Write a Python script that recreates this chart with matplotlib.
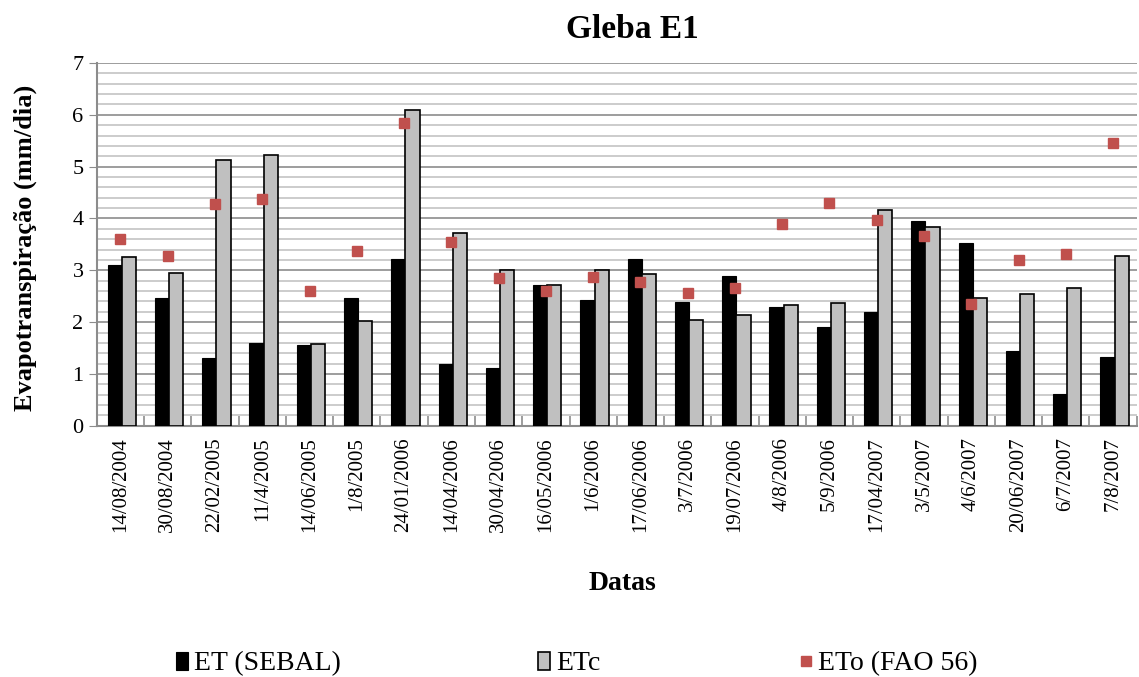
import numpy as np
from matplotlib import pyplot as plt
from matplotlib.ticker import MultipleLocator

datas = ['14/08/2004', '30/08/2004', '22/02/2005', '11/4/2005', '14/06/2005', '1/8/2005',
         '24/01/2006', '14/04/2006', '30/04/2006', '16/05/2006', '1/6/2006', '17/06/2006',
         '3/7/2006', '19/07/2006', '4/8/2006', '5/9/2006', '17/04/2007', '3/5/2007',
         '4/6/2007', '20/06/2007', '6/7/2007', '7/8/2007']
et_sebal = [3.10, 2.47, 1.30, 1.60, 1.55, 2.47, 3.22, 1.20, 1.12, 2.72, 2.42, 3.22,
            2.38, 2.90, 2.30, 1.91, 2.19, 3.95, 3.53, 1.44, 0.62, 1.32]
etc = [3.25, 2.95, 5.12, 5.23, 1.57, 2.02, 6.10, 3.72, 3.00, 2.72, 3.00, 2.92,
       2.05, 2.13, 2.33, 2.36, 4.17, 3.84, 2.47, 2.55, 2.66, 3.27]
eto = [3.60, 3.27, 4.28, 4.37, 2.60, 3.38, 5.85, 3.55, 2.85, 2.60, 2.87, 2.77,
       2.57, 2.65, 3.90, 4.30, 3.98, 3.66, 2.35, 3.20, 3.32, 5.45]

plt.rcParams['font.family'] = ['Liberation Serif', 'DejaVu Serif']

fig = plt.figure(figsize=(11.39, 6.77), dpi=100)
ax = fig.add_axes([0.085, 0.371, 0.913, 0.536])

x = np.arange(len(datas))
w = 0.30
h_et = ax.bar(x - w / 2 + 0.03, et_sebal, w, color='black', edgecolor='black', linewidth=0.8,
              label='ET (SEBAL)', zorder=3)
h_etc = ax.bar(x + w / 2 + 0.03, etc, w, color='#C0C0C0', edgecolor='black', linewidth=1.2,
               label='ETc', zorder=3)
h_eto, = ax.plot(x, eto, 's', color='#C0504D', markersize=7, linestyle='none',
                 label='ETo (FAO 56)', zorder=4)

ax.set_xlim(-0.5, len(datas) - 0.5)
ax.set_ylim(0, 7)
ax.yaxis.set_major_locator(MultipleLocator(1))
ax.yaxis.set_minor_locator(MultipleLocator(0.2))
ax.grid(axis='y', which='major', color='#8c8c8c', linewidth=1.2, zorder=0)
ax.grid(axis='y', which='minor', color='#c4c4c4', linewidth=1.2, zorder=0)
ax.tick_params(axis='y', which='major', length=6, color='#8c8c8c', labelsize=16)
ax.tick_params(axis='y', which='minor', length=0)

ax.set_xticks(x)
ax.set_xticklabels(datas, rotation=90, fontsize=15)
ax.tick_params(axis='x', which='major', length=0, pad=8)
ax.set_xticks(np.arange(len(datas) + 1) - 0.5, minor=True)
ax.tick_params(axis='x', which='minor', direction='in', length=7, color='#8c8c8c', width=1.2)

for side in ['top', 'right']:
    ax.spines[side].set_visible(False)
ax.spines['left'].set_color('#8c8c8c')
ax.spines['left'].set_linewidth(1.5)
ax.spines['bottom'].set_color('#8c8c8c')
ax.spines['bottom'].set_linewidth(1.5)

fig.text(632 / 1139, 1 - 29 / 677, 'Gleba E1', fontsize=24, fontweight='bold',
         ha='center', va='center')
ax.set_ylabel('Evapotranspiração (mm/dia)', fontsize=19, fontweight='bold')
ax.yaxis.set_label_coords(-0.058, 0.49)
ax.set_xlabel('Datas', fontsize=20, fontweight='bold')
ax.xaxis.set_label_coords(0.505, -0.40)

# three legend entries placed like the original
entries = [(h_et, 'ET (SEBAL)', 162), (h_etc, 'ETc', 524), (h_eto, 'ETo (FAO 56)', 786)]
for handle, text, px in entries:
    fig.legend([handle], [text], loc='center left',
               bbox_to_anchor=(px / 1139, 1 - 664 / 677), frameon=False,
               fontsize=20, borderpad=0, handlelength=0.45, handleheight=0.6,
               handletextpad=0.2)

plt.savefig('out.png', dpi=100)
